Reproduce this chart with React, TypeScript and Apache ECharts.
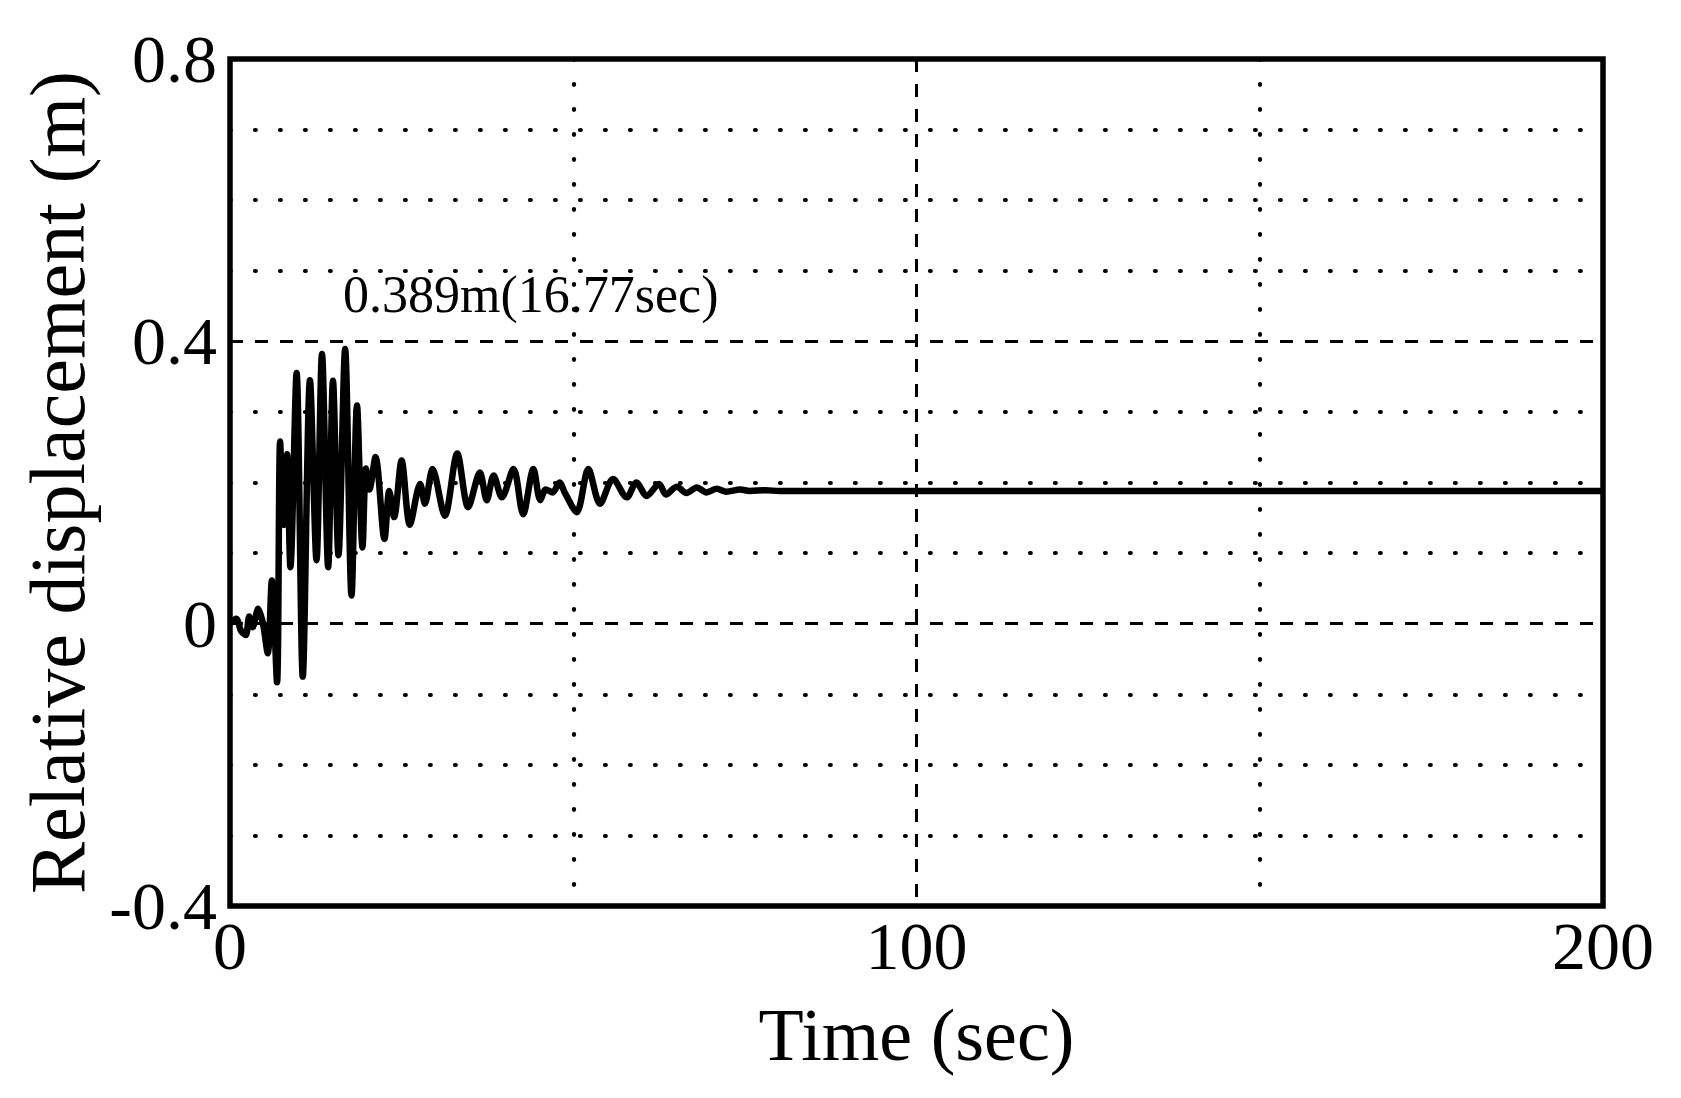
import React, { useEffect, useRef } from "react";
import * as echarts from "echarts";

const FONT = '"Liberation Serif", "Times New Roman", serif';

// time (sec) and relative displacement (m)
const timeSec = [
  0, 0.9, 1.6, 2.3, 2.8, 3.3, 4.1, 4.8, 5.5, 6.1,
  6.85, 7.3, 7.8, 8.3, 8.8, 9.7, 10.6, 11.65, 12.6, 13.4,
  14.3, 15.0, 15.8, 16.77, 17.7, 18.5, 19.3, 19.8, 20.3, 21.2,
  22.5, 23.2, 23.9, 25.0, 26.2, 27.7, 28.4, 29.5, 31.3, 33.1,
  34.7, 36.4, 37.4, 38.4, 39.6, 41.3, 42.7, 44.2, 45.2, 46.0,
  47.0, 48.0, 48.8, 50.5, 52.2, 53.9, 55.8, 57.8, 59.2, 60.7,
  62.5, 63.5, 65.1, 66.5, 68.0, 69.4, 70.9, 72.3, 74.3, 75.7,
  78.0, 80.0, 200,
];
const dispM = [
  0, 0.007, -0.01, -0.016, 0.01, -0.005, 0.021, 0.0, -0.042, 0.061,
  -0.083, 0.258, 0.14, 0.24, 0.08, 0.355, -0.075, 0.345, 0.09, 0.382,
  0.08, 0.344, 0.097, 0.389, 0.04, 0.309, 0.108, 0.22, 0.19, 0.236,
  0.12, 0.188, 0.151, 0.231, 0.14, 0.198, 0.17, 0.219, 0.153, 0.241,
  0.165, 0.214, 0.175, 0.21, 0.179, 0.219, 0.155, 0.219, 0.175, 0.19,
  0.186, 0.2, 0.185, 0.158, 0.219, 0.17, 0.205, 0.179, 0.2, 0.181,
  0.198, 0.183, 0.194, 0.185, 0.193, 0.186, 0.191, 0.187, 0.19, 0.188,
  0.189, 0.188, 0.188,
];

const xTicks = { min: 0, max: 200, interval: 100, minorSplit: 2 };
const yTicks = { min: -0.4, max: 0.8, interval: 0.4, minorSplit: 4 };

const peakLabel = "0.389m(16.77sec)";
const xName = "Time (sec)";
const yName = "Relative displacement (m)";

export default function App() {
  const ref = useRef<HTMLDivElement>(null);
  useEffect(() => {
    const chart = echarts.init(ref.current!, null, { renderer: "svg" });
    const majorLine = { color: "#000", width: 3, type: [13, 12] };
    const minorLine = { color: "#000", width: 4.2, type: [0.8, 24.2], cap: "round" };
    chart.setOption({
      animation: false,
      backgroundColor: "#fff",
      grid: {
        left: 230,
        right: 78,
        top: 59,
        bottom: 192,
        show: true,
        borderColor: "#000",
        borderWidth: 5.5,
      },
      xAxis: {
        type: "value",
        min: xTicks.min,
        max: xTicks.max,
        interval: xTicks.interval,
        axisLine: { show: false },
        axisTick: { show: false },
        axisLabel: { fontSize: 68, fontFamily: FONT, color: "#000", margin: 6 },
        splitLine: { show: true, lineStyle: majorLine },
        minorTick: { show: false, splitNumber: xTicks.minorSplit },
        minorSplitLine: { show: true, lineStyle: minorLine },
        name: xName,
        nameLocation: "middle",
        nameGap: 92,
        nameTextStyle: { fontSize: 74, fontFamily: FONT, color: "#000" },
      },
      yAxis: {
        type: "value",
        min: yTicks.min,
        max: yTicks.max,
        interval: yTicks.interval,
        axisLine: { show: false },
        axisTick: { show: false },
        axisLabel: { fontSize: 68, fontFamily: FONT, color: "#000", margin: 13 },
        splitLine: { show: true, lineStyle: majorLine },
        minorTick: { show: false, splitNumber: yTicks.minorSplit },
        minorSplitLine: { show: true, lineStyle: minorLine },
        name: yName,
        nameLocation: "middle",
        nameGap: 134,
        nameTextStyle: { fontSize: 78, fontFamily: FONT, color: "#000" },
      },
      graphic: [
        {
          type: "text",
          x: 343,
          y: 294,
          z: 10,
          style: {
            text: peakLabel,
            fill: "#000",
            font: `52px ${FONT}`,
            align: "left",
            verticalAlign: "middle",
          },
        },
      ],
      series: [
        {
          type: "line",
          data: timeSec.map((t, i) => [t, dispM[i]]),
          showSymbol: false,
          smooth: 0.3,
          lineStyle: { color: "#000", width: 6.5 },
          z: 3,
        },
      ],
    });
    return () => chart.dispose();
  }, []);
  return (
    <div
      ref={ref}
      style={{ position: "absolute", left: 0, top: 0, width: 1681, height: 1098, background: "#fff" }}
    />
  );
}
